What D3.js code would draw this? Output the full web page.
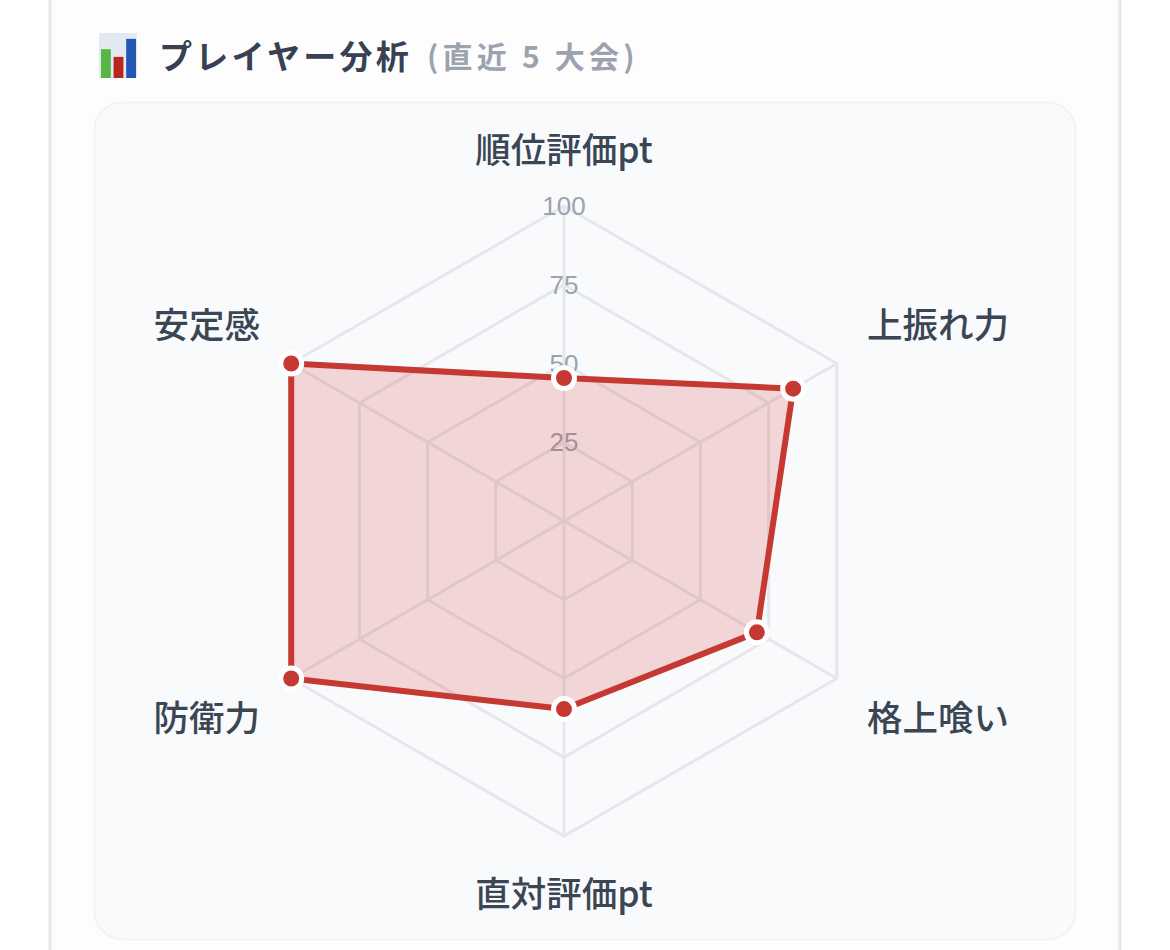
<!DOCTYPE html>
<html lang="ja">
<head>
<meta charset="utf-8">
<script src="https://cdn.jsdelivr.net/npm/d3@7"></script>
<style>
html, body { margin: 0; padding: 0; background: #fff; overflow: hidden; }
svg { display: block; }
.jp { font-family: "Noto Sans CJK JP", sans-serif; }
.axis-label { font-size: 35.5px; font-weight: 500; fill: #3b4655; dominant-baseline: central; }
.tick { font-family: "Liberation Sans", sans-serif; font-size: 26px; fill: #9ca3af; text-anchor: middle; dominant-baseline: central; }
</style>
</head>
<body>
<main></main>
<script>
const categories = ['順位評価pt', '上振れ力', '格上喰い', '直対評価pt', '防衛力', '安定感'];
const values = [45.4, 84, 70.7, 59.7, 100, 100];
const tickValues = [25, 50, 75, 100];
const iconBars = [['a', 64, '#55b545'], ['b', 47, '#b8261c'], ['c', 87, '#2258b5']];

const width = 1170;
const height = 950;
const cx = 564;
const cy = 521;

const svg = d3.select('main')
	.append('svg')
	.attr('width', width)
	.attr('height', height);

// card + inner panel
svg.append('rect')
	.attr('x', 50).attr('y', -20)
	.attr('width', 1070).attr('height', 1000)
	.attr('fill', '#fdfdfe')
	.attr('stroke', '#e5e7eb')
	.attr('stroke-width', 3);

svg.append('rect')
	.attr('x', 94.5).attr('y', 102.5)
	.attr('width', 981).attr('height', 837)
	.attr('rx', 28)
	.attr('fill', '#f9fafc')
	.attr('stroke', '#f2f3f6')
	.attr('stroke-width', 2);

// title icon
svg.append('rect')
	.attr('x', 99).attr('y', 33)
	.attr('width', 38).attr('height', 45)
	.attr('fill', '#e3e9f0');

const iconX = d3.scaleBand().domain(iconBars.map((d) => d[0])).range([101, 136]).paddingInner(0.22);
const iconY = d3.scaleLinear().domain([0, 100]).range([78, 33]);

svg.selectAll('.icon-bar')
	.data(iconBars)
	.enter()
	.append('rect')
	.attr('class', 'icon-bar')
	.attr('x', (d) => iconX(d[0]))
	.attr('y', (d) => iconY(d[1]))
	.attr('width', iconX.bandwidth())
	.attr('height', (d) => 78 - iconY(d[1]))
	.attr('fill', (d) => d[2]);

svg.append('text')
	.attr('class', 'jp')
	.attr('x', 159)
	.attr('y', 69)
	.attr('font-size', 33)
	.attr('font-weight', 700)
	.attr('letter-spacing', 3.3)
	.attr('fill', '#374151')
	.text('プレイヤー分析');

svg.append('text')
	.attr('class', 'jp')
	.attr('x', 427)
	.attr('y', 68)
	.attr('font-size', 30)
	.attr('font-weight', 700)
	.attr('letter-spacing', 4.2)
	.attr('fill', '#9ca3af')
	.text('(直近 5 大会)');

// radar
const r = d3.scaleLinear().domain([0, 100]).range([0, 315]);
const angle = d3.scalePoint().domain(d3.range(categories.length + 1)).range([0, 2 * Math.PI]);

const pointAt = (i, v) => [
	cx + r(v) * Math.sin(angle(i)),
	cy - r(v) * Math.cos(angle(i))
];

const radarLine = d3.line().curve(d3.curveLinearClosed);

svg.selectAll('.ring')
	.data(tickValues)
	.enter()
	.append('path')
	.attr('class', 'ring')
	.attr('d', (t) => radarLine(categories.map((c, i) => pointAt(i, t))))
	.attr('fill', 'none')
	.attr('stroke', '#e5e7eb')
	.attr('stroke-width', 3);

svg.selectAll('.spoke')
	.data(categories)
	.enter()
	.append('line')
	.attr('class', 'spoke')
	.attr('x1', cx)
	.attr('y1', cy)
	.attr('x2', (c, i) => pointAt(i, 100)[0])
	.attr('y2', (c, i) => pointAt(i, 100)[1])
	.attr('stroke', '#e5e7eb')
	.attr('stroke-width', 3);

svg.selectAll('.tick')
	.data(tickValues)
	.enter()
	.append('text')
	.attr('class', 'tick')
	.attr('x', cx)
	.attr('y', (t) => cy - r(t))
	.text((t) => t);

svg.append('path')
	.attr('d', radarLine(values.map((v, i) => pointAt(i, v))))
	.attr('fill', 'rgba(212, 48, 52, 0.18)')
	.attr('stroke', '#c63832')
	.attr('stroke-width', 6)
	.attr('stroke-linejoin', 'round');

svg.selectAll('.dot')
	.data(values)
	.enter()
	.append('circle')
	.attr('class', 'dot')
	.attr('cx', (v, i) => pointAt(i, v)[0])
	.attr('cy', (v, i) => pointAt(i, v)[1])
	.attr('r', 10.5)
	.attr('fill', '#c63832')
	.attr('stroke', '#fff')
	.attr('stroke-width', 5);

// labels sit outside the 100 ring, anchored away from the centre
const labelX = (i) => cx + (i < 3 ? 350 : 351) * Math.sin(angle(i));
const labelY = (i) => cy - (i % 3 === 0 ? 372 : 393) * Math.cos(angle(i));

svg.selectAll('.axis-label')
	.data(categories)
	.enter()
	.append('text')
	.attr('class', 'axis-label jp')
	.attr('x', (c, i) => labelX(i))
	.attr('y', (c, i) => labelY(i) - 2)
	.attr('text-anchor', (c, i) => i % 3 === 0 ? 'middle' : (i < 3 ? 'start' : 'end'))
	.text((c) => c);
</script>
</body>
</html>
